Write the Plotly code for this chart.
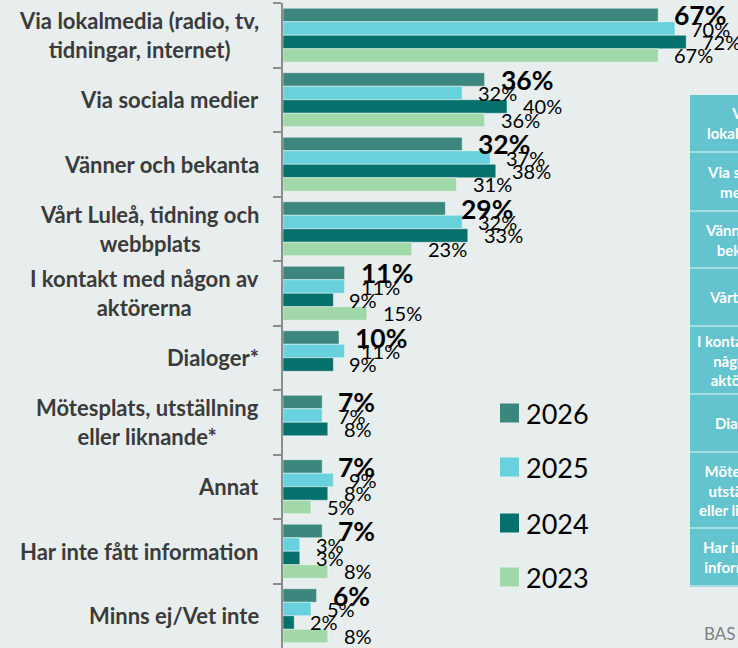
import plotly.graph_objects as go

# ---------------- data ----------------
categories = [
    "Via lokalmedia (radio, tv,<br>tidningar, internet)",
    "Via sociala medier",
    "Vänner och bekanta",
    "Vårt Luleå, tidning och<br>webbplats",
    "I kontakt med någon av<br>aktörerna",
    "Dialoger*",
    "Mötesplats, utställning<br>eller liknande*",
    "Annat",
    "Har inte fått information",
    "Minns ej/Vet inte",
]
years = ["2026", "2025", "2024", "2023"]
v2026 = [67, 36, 32, 29, 11, 10, 7, 7, 7, 6]
v2025 = [70, 32, 37, 32, 11, 11, 7, 9, 3, 5]
v2024 = [72, 40, 38, 33, 9, 9, 8, 8, 3, 2]
v2023 = [67, 36, 31, 23, 15, None, None, 5, 8, 8]
series = [v2026, v2025, v2024, v2023]
colors = ["#3c877d", "#68d1dd", "#06706c", "#a0d8aa"]

table_rows = [
    "Via<br>lokalmedia",
    "Via sociala<br>medier",
    "Vänner och<br>bekanta",
    "Vårt Luleå",
    "I kontakt med<br>någon av<br>aktörerna",
    "Dialoger",
    "Mötesplats,<br>utställning<br>eller liknande",
    "Har inte fått<br>information",
]
table_bounds_px = [95, 152, 211, 268, 326, 394, 452, 528, 586]

# ---------------- layout geometry ----------------
W, H = 738, 648
ML, MR, MT, MB = 283, 0, 3, 0
PW, PH = W - ML - MR, H - MT - MB
PX_PER_PCT = 5.6
BARGAP = 0.163
BG = "#e7eeed"
FONT = "Lato"


def px_x(px):
    return (px - ML) / PW


def px_y(py):
    return 1 - (py - MT) / PH


fig = go.Figure()
for name, vals, col in zip(years, series, colors):
    fig.add_trace(go.Bar(
        y=categories, x=vals, name=name, orientation="h",
        marker=dict(color=col, line=dict(color="rgba(255,255,255,0.45)", width=1)),
        showlegend=False, hoverinfo="x+name",
    ))

annotations = []
# value labels
slot = PH / len(categories)
bw = slot * (1 - BARGAP) / len(series)
for i, (vals, name) in enumerate(zip(series, years)):
    yshift = (len(series) - 1) / 2 * bw - i * bw
    for cat, v in zip(categories, vals):
        if v is None:
            continue
        bold = i == 0
        annotations.append(dict(
            x=v, y=cat, xref="x", yref="y", xanchor="left", yanchor="middle",
            xshift=14, yshift=yshift, showarrow=False,
            text=f"<b>{v}%</b>" if bold else f"{v}%",
            font=dict(family=FONT, size=26.5 if bold else 20, color="#000000"),
        ))

# category labels
for cat in categories:
    annotations.append(dict(
        x=px_x(261), y=cat, xref="paper", yref="y", xanchor="right", yanchor="middle",
        align="center", showarrow=False, text=f"<b>{cat}</b>",
        font=dict(family=FONT, size=22, color="#3b3b3b"),
    ))

shapes = []
# manual legend
leg_y = [413, 467, 523, 577]
for name, col, cy in zip(years, colors, leg_y):
    shapes.append(dict(type="rect", xref="paper", yref="paper",
                       x0=px_x(500), x1=px_x(519), y0=px_y(cy + 9.5), y1=px_y(cy - 9.5),
                       fillcolor=col, line=dict(width=0)))
    annotations.append(dict(x=px_x(524), y=px_y(cy), xref="paper", yref="paper",
                            xanchor="left", yanchor="middle", showarrow=False,
                            text=name, font=dict(family=FONT, size=27, color="#000000")))

# right-hand table (cropped)
for k, txt in enumerate(table_rows):
    top, bot = table_bounds_px[k], table_bounds_px[k + 1]
    shapes.append(dict(type="rect", xref="paper", yref="paper",
                       x0=px_x(690), x1=px_x(820), y0=px_y(bot), y1=px_y(top),
                       fillcolor="#63c3ce", line=dict(width=0)))
    annotations.append(dict(x=px_x(743), y=px_y((top + bot) / 2), xref="paper", yref="paper",
                            xanchor="center", yanchor="middle", align="center",
                            showarrow=False, text=f"<b>{txt}</b>",
                            font=dict(family=FONT, size=15, color="#ffffff")))
for b in table_bounds_px[1:]:
    shapes.append(dict(type="line", xref="paper", yref="paper",
                       x0=px_x(690), x1=px_x(820), y0=px_y(b), y1=px_y(b),
                       line=dict(color="#a6dde2", width=2)))

annotations.append(dict(x=px_x(702), y=px_y(633), xref="paper", yref="paper",
                        xanchor="left", yanchor="middle", showarrow=False,
                        text="BAS", font=dict(family=FONT, size=17, color="#7f7f7f")))

fig.update_layout(
    width=W, height=H,
    margin=dict(l=ML, r=MR, t=MT, b=MB, pad=0),
    paper_bgcolor=BG, plot_bgcolor=BG,
    barmode="group", bargap=BARGAP, bargroupgap=0,
    xaxis=dict(range=[0, PW / PX_PER_PCT], visible=False, fixedrange=True),
    yaxis=dict(type="category", range=[len(categories) - 0.5, -0.5],
               showticklabels=False, ticks="outside", tickson="boundaries",
               ticklen=8, tickwidth=2, tickcolor="#8c8c8c",
               showline=True, linecolor="#8c8c8c", linewidth=2,
               showgrid=False, zeroline=False, fixedrange=True),
    annotations=annotations, shapes=shapes,
    font=dict(family=FONT),
)

fig.write_html(
    "out.html",
    config={"displayModeBar": False},
    post_script="document.body.style.margin='0';document.body.style.background='" + BG + "';",
)
